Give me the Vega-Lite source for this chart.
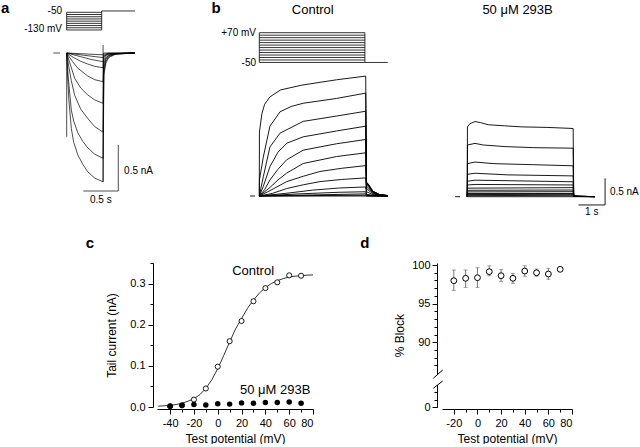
{
"$schema":"https://vega.github.io/schema/vega-lite/v6.json",
"padding":0,
"background":"white",
"config":{"view":{"stroke":null},"font":"Liberation Sans","text":{"font":"Liberation Sans","color":"black","fontSize":10},
"axis":{"grid":false,"domainColor":"black","tickColor":"black","labelColor":"black","titleColor":"black","labelFont":"Liberation Sans","titleFont":"Liberation Sans","labelFontSize":11,"titleFontSize":12,"titleFontWeight":"normal","domainWidth":1,"tickWidth":1}},
"datasets":{
"a_v":[
{"s":"L50","t":0,"v":-50},{"s":"L50","t":0.5,"v":-50},
{"s":"L60","t":0,"v":-60},{"s":"L60","t":0.5,"v":-60},
{"s":"L70","t":0,"v":-70},{"s":"L70","t":0.5,"v":-70},
{"s":"L80","t":0,"v":-80},{"s":"L80","t":0.5,"v":-80},
{"s":"L90","t":0,"v":-90},{"s":"L90","t":0.5,"v":-90},
{"s":"L100","t":0,"v":-100},{"s":"L100","t":0.5,"v":-100},
{"s":"L110","t":0,"v":-110},{"s":"L110","t":0.5,"v":-110},
{"s":"L120","t":0,"v":-120},{"s":"L120","t":0.5,"v":-120},
{"s":"L130","t":0,"v":-130},{"s":"L130","t":0.5,"v":-130},
{"s":"e0","t":0,"v":-50},{"s":"e0","t":0,"v":-130},
{"s":"e1","t":0.5,"v":-130},{"s":"e1","t":0.5,"v":-44},
{"s":"post","t":0.5,"v":-44},{"s":"post","t":0.976,"v":-44}
],
"a_i":[
{"s":"-130","t":0,"i":0},{"s":"-130","t":0.01,"i":-0.2},{"s":"-130","t":0.03,"i":-0.5},{"s":"-130","t":0.066,"i":-0.82},{"s":"-130","t":0.1,"i":-0.97},{"s":"-130","t":0.16,"i":-1.11},{"s":"-130","t":0.23,"i":-1.21},{"s":"-130","t":0.3,"i":-1.29},{"s":"-130","t":0.4,"i":-1.36},{"s":"-130","t":0.52,"i":-1.4},{"s":"-130","t":0.53,"i":-0.24},{"s":"-130","t":0.56,"i":-0.11},{"s":"-130","t":0.6,"i":-0.05},{"s":"-130","t":0.7,"i":-0.012},{"s":"-130","t":0.97,"i":0},
{"s":"-120","t":0,"i":0},{"s":"-120","t":0.02,"i":-0.25},{"s":"-120","t":0.066,"i":-0.62},{"s":"-120","t":0.1,"i":-0.74},{"s":"-120","t":0.16,"i":-0.87},{"s":"-120","t":0.23,"i":-0.96},{"s":"-120","t":0.3,"i":-1.03},{"s":"-120","t":0.4,"i":-1.1},{"s":"-120","t":0.52,"i":-1.145},{"s":"-120","t":0.53,"i":-0.2},{"s":"-120","t":0.56,"i":-0.09},{"s":"-120","t":0.6,"i":-0.04},{"s":"-120","t":0.7,"i":-0.01},{"s":"-120","t":0.97,"i":0},
{"s":"-110","t":0,"i":0},{"s":"-110","t":0.03,"i":-0.15},{"s":"-110","t":0.066,"i":-0.3},{"s":"-110","t":0.114,"i":-0.46},{"s":"-110","t":0.2,"i":-0.61},{"s":"-110","t":0.3,"i":-0.71},{"s":"-110","t":0.4,"i":-0.8},{"s":"-110","t":0.52,"i":-0.86},{"s":"-110","t":0.53,"i":-0.16},{"s":"-110","t":0.56,"i":-0.07},{"s":"-110","t":0.6,"i":-0.03},{"s":"-110","t":0.7,"i":-0.008},{"s":"-110","t":0.97,"i":0},
{"s":"-100","t":0,"i":0},{"s":"-100","t":0.05,"i":-0.12},{"s":"-100","t":0.114,"i":-0.275},{"s":"-100","t":0.2,"i":-0.38},{"s":"-100","t":0.3,"i":-0.455},{"s":"-100","t":0.4,"i":-0.51},{"s":"-100","t":0.52,"i":-0.547},{"s":"-100","t":0.53,"i":-0.12},{"s":"-100","t":0.56,"i":-0.055},{"s":"-100","t":0.6,"i":-0.025},{"s":"-100","t":0.7,"i":-0.006},{"s":"-100","t":0.97,"i":0},
{"s":"-90","t":0,"i":0},{"s":"-90","t":0.08,"i":-0.09},{"s":"-90","t":0.16,"i":-0.166},{"s":"-90","t":0.3,"i":-0.25},{"s":"-90","t":0.4,"i":-0.29},{"s":"-90","t":0.52,"i":-0.312},{"s":"-90","t":0.53,"i":-0.08},{"s":"-90","t":0.56,"i":-0.035},{"s":"-90","t":0.6,"i":-0.016},{"s":"-90","t":0.97,"i":0},
{"s":"-80","t":0,"i":0},{"s":"-80","t":0.1,"i":-0.05},{"s":"-80","t":0.2,"i":-0.09},{"s":"-80","t":0.3,"i":-0.12},{"s":"-80","t":0.4,"i":-0.145},{"s":"-80","t":0.52,"i":-0.16},{"s":"-80","t":0.53,"i":-0.05},{"s":"-80","t":0.56,"i":-0.022},{"s":"-80","t":0.6,"i":-0.01},{"s":"-80","t":0.97,"i":0},
{"s":"-70","t":0,"i":0},{"s":"-70","t":0.2,"i":-0.04},{"s":"-70","t":0.35,"i":-0.07},{"s":"-70","t":0.52,"i":-0.095},{"s":"-70","t":0.53,"i":-0.03},{"s":"-70","t":0.6,"i":-0.006},{"s":"-70","t":0.97,"i":0},
{"s":"-60","t":0,"i":0},{"s":"-60","t":0.25,"i":-0.025},{"s":"-60","t":0.52,"i":-0.05},{"s":"-60","t":0.53,"i":-0.015},{"s":"-60","t":0.6,"i":-0.003},{"s":"-60","t":0.97,"i":0},
{"s":"-50","t":0,"i":0},{"s":"-50","t":0.52,"i":-0.02},{"s":"-50","t":0.53,"i":0},{"s":"-50","t":0.97,"i":0},
{"s":"art0","t":0,"i":0},{"s":"art0","t":0,"i":-0.91},
{"s":"art1","t":0.52,"i":0.087},{"s":"art1","t":0.52,"i":-1.4},
{"s":"zero","t":-0.19,"i":0},{"s":"zero","t":-0.096,"i":0},
{"s":"sbv","t":0.737,"i":-1.0},{"s":"sbv","t":0.737,"i":-1.5},
{"s":"sbh","t":0.237,"i":-1.5},{"s":"sbh","t":0.737,"i":-1.5}
],
"bc_v":[
{"s":"L-50","t":0,"v":-50},{"s":"L-50","t":3.97,"v":-50},
{"s":"L-40","t":0,"v":-40},{"s":"L-40","t":3.97,"v":-40},
{"s":"L-30","t":0,"v":-30},{"s":"L-30","t":3.97,"v":-30},
{"s":"L-20","t":0,"v":-20},{"s":"L-20","t":3.97,"v":-20},
{"s":"L-10","t":0,"v":-10},{"s":"L-10","t":3.97,"v":-10},
{"s":"L0","t":0,"v":0},{"s":"L0","t":3.97,"v":0},
{"s":"L10","t":0,"v":10},{"s":"L10","t":3.97,"v":10},
{"s":"L20","t":0,"v":20},{"s":"L20","t":3.97,"v":20},
{"s":"L30","t":0,"v":30},{"s":"L30","t":3.97,"v":30},
{"s":"L40","t":0,"v":40},{"s":"L40","t":3.97,"v":40},
{"s":"L50","t":0,"v":50},{"s":"L50","t":3.97,"v":50},
{"s":"L60","t":0,"v":60},{"s":"L60","t":3.97,"v":60},
{"s":"L70","t":0,"v":70},{"s":"L70","t":3.97,"v":70},
{"s":"e0","t":0,"v":-50},{"s":"e0","t":0,"v":70},
{"s":"e1","t":3.97,"v":-50},{"s":"e1","t":3.97,"v":70},
{"s":"post","t":3.97,"v":-50},{"s":"post","t":4.83,"v":-50}
],
"bc_i":[
{"s":"+70","t":0,"i":0},{"s":"+70","t":0.005,"i":1.2},{"s":"+70","t":0.1,"i":1.55},{"s":"+70","t":0.2,"i":1.72},{"s":"+70","t":0.4,"i":1.86},{"s":"+70","t":0.8,"i":1.99},{"s":"+70","t":1.6,"i":2.08},{"s":"+70","t":2.9,"i":2.18},{"s":"+70","t":4.0,"i":2.25},{"s":"+70","t":4.03,"i":0.26},{"s":"+70","t":4.12,"i":0.21},{"s":"+70","t":4.27,"i":0.09},{"s":"+70","t":4.5,"i":0.03},{"s":"+70","t":4.83,"i":0.008},
{"s":"+60","t":0,"i":0},{"s":"+60","t":0.005,"i":0.3},{"s":"+60","t":0.15,"i":0.73},{"s":"+60","t":0.4,"i":1.31},{"s":"+60","t":0.78,"i":1.58},{"s":"+60","t":1.2,"i":1.68},{"s":"+60","t":1.65,"i":1.74},{"s":"+60","t":2.9,"i":1.83},{"s":"+60","t":4.0,"i":1.93},{"s":"+60","t":4.03,"i":0.26},{"s":"+60","t":4.12,"i":0.2},{"s":"+60","t":4.27,"i":0.09},{"s":"+60","t":4.5,"i":0.03},{"s":"+60","t":4.83,"i":0.008},
{"s":"+50","t":0,"i":0},{"s":"+50","t":0.15,"i":0.36},{"s":"+50","t":0.4,"i":0.92},{"s":"+50","t":0.78,"i":1.18},{"s":"+50","t":1.65,"i":1.4},{"s":"+50","t":2.9,"i":1.5},{"s":"+50","t":4.0,"i":1.59},{"s":"+50","t":4.03,"i":0.25},{"s":"+50","t":4.12,"i":0.19},{"s":"+50","t":4.27,"i":0.085},{"s":"+50","t":4.5,"i":0.028},{"s":"+50","t":4.83,"i":0.007},
{"s":"+40","t":0,"i":0},{"s":"+40","t":0.15,"i":0.18},{"s":"+40","t":0.4,"i":0.55},{"s":"+40","t":0.7,"i":0.82},{"s":"+40","t":1.03,"i":0.99},{"s":"+40","t":1.65,"i":1.11},{"s":"+40","t":2.9,"i":1.22},{"s":"+40","t":4.0,"i":1.31},{"s":"+40","t":4.03,"i":0.24},{"s":"+40","t":4.12,"i":0.18},{"s":"+40","t":4.27,"i":0.08},{"s":"+40","t":4.5,"i":0.026},{"s":"+40","t":4.83,"i":0.006},
{"s":"+30","t":0,"i":0},{"s":"+30","t":0.2,"i":0.12},{"s":"+30","t":0.4,"i":0.3},{"s":"+30","t":0.7,"i":0.5},{"s":"+30","t":1.03,"i":0.68},{"s":"+30","t":1.65,"i":0.86},{"s":"+30","t":2.9,"i":0.98},{"s":"+30","t":4.0,"i":1.06},{"s":"+30","t":4.03,"i":0.21},{"s":"+30","t":4.12,"i":0.16},{"s":"+30","t":4.27,"i":0.07},{"s":"+30","t":4.5,"i":0.023},{"s":"+30","t":4.83,"i":0.005},
{"s":"+20","t":0,"i":0},{"s":"+20","t":0.4,"i":0.16},{"s":"+20","t":0.7,"i":0.3},{"s":"+20","t":1.03,"i":0.43},{"s":"+20","t":1.65,"i":0.61},{"s":"+20","t":2.9,"i":0.74},{"s":"+20","t":4.0,"i":0.81},{"s":"+20","t":4.03,"i":0.17},{"s":"+20","t":4.12,"i":0.13},{"s":"+20","t":4.27,"i":0.055},{"s":"+20","t":4.5,"i":0.018},{"s":"+20","t":4.83,"i":0.004},
{"s":"+10","t":0,"i":0},{"s":"+10","t":0.4,"i":0.1},{"s":"+10","t":1.03,"i":0.27},{"s":"+10","t":1.65,"i":0.37},{"s":"+10","t":2.28,"i":0.46},{"s":"+10","t":3.1,"i":0.52},{"s":"+10","t":4.0,"i":0.57},{"s":"+10","t":4.03,"i":0.13},{"s":"+10","t":4.12,"i":0.1},{"s":"+10","t":4.27,"i":0.04},{"s":"+10","t":4.5,"i":0.014},{"s":"+10","t":4.83,"i":0.003},
{"s":"0","t":0,"i":0},{"s":"0","t":0.5,"i":0.05},{"s":"0","t":1.03,"i":0.14},{"s":"0","t":1.65,"i":0.21},{"s":"0","t":2.28,"i":0.27},{"s":"0","t":3.1,"i":0.31},{"s":"0","t":4.0,"i":0.34},{"s":"0","t":4.03,"i":0.08},{"s":"0","t":4.12,"i":0.06},{"s":"0","t":4.27,"i":0.025},{"s":"0","t":4.5,"i":0.008},{"s":"0","t":4.83,"i":0.002},
{"s":"-10","t":0,"i":0},{"s":"-10","t":1.0,"i":0.05},{"s":"-10","t":2.0,"i":0.11},{"s":"-10","t":3.0,"i":0.15},{"s":"-10","t":4.0,"i":0.17},{"s":"-10","t":4.03,"i":0.035},{"s":"-10","t":4.27,"i":0.01},{"s":"-10","t":4.83,"i":0},
{"s":"-20","t":0,"i":0},{"s":"-20","t":1.5,"i":0.04},{"s":"-20","t":3.0,"i":0.07},{"s":"-20","t":4.0,"i":0.08},{"s":"-20","t":4.03,"i":0.015},{"s":"-20","t":4.3,"i":0.004},{"s":"-20","t":4.83,"i":0},
{"s":"-30","t":0,"i":0},{"s":"-30","t":2.0,"i":0.02},{"s":"-30","t":4.0,"i":0.04},{"s":"-30","t":4.03,"i":0.005},{"s":"-30","t":4.83,"i":0},
{"s":"-40","t":0,"i":0},{"s":"-40","t":4.0,"i":0.015},{"s":"-40","t":4.03,"i":0},{"s":"-40","t":4.83,"i":0},
{"s":"-50","t":0,"i":0},{"s":"-50","t":4.83,"i":0},
{"s":"zero","t":-0.35,"i":0},{"s":"zero","t":-0.16,"i":0}
],
"bb_i":[
{"s":"+70","t":0,"i":0},{"s":"+70","t":0.005,"i":1.31},{"s":"+70","t":0.1,"i":1.37},{"s":"+70","t":0.29,"i":1.41},{"s":"+70","t":0.5,"i":1.39},{"s":"+70","t":0.79,"i":1.35},{"s":"+70","t":1.4,"i":1.33},{"s":"+70","t":2.05,"i":1.31},{"s":"+70","t":3.0,"i":1.3},{"s":"+70","t":3.98,"i":1.28},{"s":"+70","t":4.0,"i":0.02},{"s":"+70","t":4.2,"i":0.01},{"s":"+70","t":4.8,"i":0},
{"s":"+60","t":0,"i":0},{"s":"+60","t":0.005,"i":0.97},{"s":"+60","t":0.29,"i":1.0},{"s":"+60","t":0.6,"i":0.97},{"s":"+60","t":1.42,"i":0.94},{"s":"+60","t":2.5,"i":0.92},{"s":"+60","t":3.98,"i":0.91},{"s":"+60","t":4.0,"i":0.015},{"s":"+60","t":4.8,"i":0},
{"s":"+50","t":0,"i":0},{"s":"+50","t":0.005,"i":0.62},{"s":"+50","t":0.29,"i":0.65},{"s":"+50","t":1.0,"i":0.62},{"s":"+50","t":2.5,"i":0.6},{"s":"+50","t":3.98,"i":0.58},{"s":"+50","t":4.0,"i":0.01},{"s":"+50","t":4.8,"i":0},
{"s":"+40","t":0,"i":0},{"s":"+40","t":0.005,"i":0.42},{"s":"+40","t":0.29,"i":0.44},{"s":"+40","t":1.5,"i":0.41},{"s":"+40","t":3.98,"i":0.39},{"s":"+40","t":4.0,"i":0.01},{"s":"+40","t":4.8,"i":0},
{"s":"+30","t":0,"i":0},{"s":"+30","t":0.005,"i":0.29},{"s":"+30","t":0.29,"i":0.31},{"s":"+30","t":3.98,"i":0.28},{"s":"+30","t":4.0,"i":0.005},{"s":"+30","t":4.8,"i":0},
{"s":"+20","t":0,"i":0},{"s":"+20","t":0.005,"i":0.22},{"s":"+20","t":0.29,"i":0.23},{"s":"+20","t":3.98,"i":0.22},{"s":"+20","t":4.0,"i":0.005},{"s":"+20","t":4.8,"i":0},
{"s":"+10","t":0,"i":0},{"s":"+10","t":0.005,"i":0.16},{"s":"+10","t":3.98,"i":0.17},{"s":"+10","t":4.0,"i":0},
{"s":"0","t":0,"i":0},{"s":"0","t":0.005,"i":0.12},{"s":"0","t":3.98,"i":0.125},{"s":"0","t":4.0,"i":0},
{"s":"-10","t":0,"i":0},{"s":"-10","t":0.005,"i":0.09},{"s":"-10","t":3.98,"i":0.094},{"s":"-10","t":4.0,"i":0},
{"s":"-20","t":0,"i":0},{"s":"-20","t":0.005,"i":0.06},{"s":"-20","t":3.98,"i":0.06},{"s":"-20","t":4.0,"i":0},
{"s":"-30","t":0,"i":0},{"s":"-30","t":0.005,"i":0.04},{"s":"-30","t":3.98,"i":0.045},{"s":"-30","t":4.0,"i":0},
{"s":"-40","t":0,"i":0},{"s":"-40","t":0.005,"i":0.02},{"s":"-40","t":3.98,"i":0.026},{"s":"-40","t":4.0,"i":0},
{"s":"-50","t":0,"i":0},{"s":"-50","t":4.8,"i":0},
{"s":"zero","t":-0.46,"i":0},{"s":"zero","t":-0.27,"i":0},
{"s":"sbv","t":5.18,"i":0.345},{"s":"sbv","t":5.18,"i":-0.155},
{"s":"sbh","t":4.18,"i":-0.155},{"s":"sbh","t":5.18,"i":-0.155}
],
"c_fit":[
{"v":-50,"i":0.002},{"v":-45,"i":0.003},{"v":-40,"i":0.004},{"v":-35,"i":0.006},{"v":-30,"i":0.009},{"v":-25,"i":0.014},{"v":-20,"i":0.02},{"v":-15,"i":0.03},{"v":-10,"i":0.045},{"v":-5,"i":0.066},{"v":0,"i":0.093},{"v":5,"i":0.125},{"v":10,"i":0.158},{"v":15,"i":0.19},{"v":20,"i":0.215},{"v":25,"i":0.24},{"v":30,"i":0.26},{"v":35,"i":0.277},{"v":40,"i":0.29},{"v":45,"i":0.3},{"v":50,"i":0.307},{"v":55,"i":0.312},{"v":60,"i":0.316},{"v":65,"i":0.318},{"v":70,"i":0.319},{"v":75,"i":0.3205},{"v":80,"i":0.321}
],
"c_pts":[
{"v":-40,"ctrl":0.002,"b293":0.002},{"v":-30,"ctrl":0.004,"b293":0.004},{"v":-20,"ctrl":0.018,"b293":0.006},{"v":-10,"ctrl":0.045,"b293":0.005},{"v":0,"ctrl":0.098,"b293":0.008},{"v":10,"ctrl":0.16,"b293":0.007},{"v":20,"ctrl":0.209,"b293":0.01},{"v":30,"ctrl":0.257,"b293":0.009},{"v":40,"ctrl":0.289,"b293":0.011},{"v":50,"ctrl":0.303,"b293":0.011},{"v":60,"ctrl":0.32,"b293":0.012},{"v":70,"ctrl":0.319,"b293":0.009}
],
"d_pts":[
{"v":-20,"m":97.97,"lo":96.7,"hi":99.35},{"v":-10,"m":98.28,"lo":97.1,"hi":99.35},{"v":0,"m":98.36,"lo":97.1,"hi":99.65},{"v":10,"m":99.14,"lo":98.6,"hi":99.9},{"v":20,"m":98.62,"lo":97.85,"hi":99.4},{"v":30,"m":98.28,"lo":97.63,"hi":98.92},{"v":40,"m":99.22,"lo":98.54,"hi":99.9},{"v":50,"m":99.0,"lo":98.54,"hi":99.48},{"v":60,"m":98.84,"lo":98.15,"hi":99.57},{"v":70,"m":99.44,"lo":99.22,"hi":99.65}
]
},
"bounds":"flush",
"spacing":33,
"vconcat":[
{"width":640,"height":230,"resolve":{"scale":{"x":"independent","y":"independent"}},"layer":[
 {"resolve":{"scale":{"y":"independent"}},"layer":[
  {"data":{"name":"a_v"},"layer":[
   {"mark":{"type":"line","color":"black","strokeWidth":0.8},"encoding":{"x":{"field":"t","type":"quantitative","scale":{"domain":[-0.9529,8.19],"nice":false,"zero":false},"axis":null},"y":{"field":"v","type":"quantitative","scale":{"domain":[-1035.07,5.656],"nice":false,"zero":false},"axis":null},"detail":{"field":"s","type":"nominal"}}},
   {"data":{"values":[{}]},"mark":{"type":"text","align":"right","baseline":"middle","fontSize":10},"encoding":{"x":{"datum":-0.067,"type":"quantitative","scale":{"domain":[-0.9529,8.19],"nice":false,"zero":false},"axis":null},"y":{"datum":-44,"type":"quantitative","scale":{"domain":[-1035.07,5.656],"nice":false,"zero":false},"axis":null},"text":{"value":"-50"}}},
   {"data":{"values":[{}]},"mark":{"type":"text","align":"right","baseline":"middle","fontSize":10},"encoding":{"x":{"datum":-0.067,"type":"quantitative","scale":{"domain":[-0.9529,8.19],"nice":false,"zero":false},"axis":null},"y":{"datum":-127,"type":"quantitative","scale":{"domain":[-1035.07,5.656],"nice":false,"zero":false},"axis":null},"text":{"value":"-130 mV"}}}
  ]},
  {"data":{"name":"a_i"},"layer":[
   {"mark":{"type":"line","color":"black","strokeWidth":0.7},"encoding":{"x":{"field":"t","type":"quantitative","scale":{"domain":[-0.9529,8.19],"nice":false,"zero":false},"axis":null},"y":{"field":"i","type":"quantitative","scale":{"domain":[-1.9239,0.5761],"nice":false,"zero":false},"axis":null},"detail":{"field":"s","type":"nominal"}}},
   {"data":{"values":[{}]},"mark":{"type":"text","align":"center","baseline":"middle","fontSize":15,"fontWeight":"bold"},"encoding":{"x":{"datum":-0.88,"type":"quantitative","scale":{"domain":[-0.9529,8.19],"nice":false,"zero":false},"axis":null},"y":{"datum":0.49,"type":"quantitative","scale":{"domain":[-1.9239,0.5761],"nice":false,"zero":false},"axis":null},"text":{"value":"a"}}},
   {"data":{"values":[{}]},"mark":{"type":"text","align":"left","baseline":"middle","fontSize":10},"encoding":{"x":{"datum":0.82,"type":"quantitative","scale":{"domain":[-0.9529,8.19],"nice":false,"zero":false},"axis":null},"y":{"datum":-1.28,"type":"quantitative","scale":{"domain":[-1.9239,0.5761],"nice":false,"zero":false},"axis":null},"text":{"value":"0.5 nA"}}},
   {"data":{"values":[{}]},"mark":{"type":"text","align":"center","baseline":"middle","fontSize":10},"encoding":{"x":{"datum":0.487,"type":"quantitative","scale":{"domain":[-0.9529,8.19],"nice":false,"zero":false},"axis":null},"y":{"datum":-1.6,"type":"quantitative","scale":{"domain":[-1.9239,0.5761],"nice":false,"zero":false},"axis":null},"text":{"value":"0.5 s"}}}
  ]}
 ]},
 {"resolve":{"scale":{"y":"independent"}},"layer":[
  {"data":{"name":"bc_v"},"layer":[
   {"mark":{"type":"line","color":"black","strokeWidth":0.8},"encoding":{"x":{"field":"t","type":"quantitative","scale":{"domain":[-9.7481,14.312],"nice":false,"zero":false},"axis":null},"y":{"field":"v","type":"quantitative","scale":{"domain":[-725.56,201.85],"nice":false,"zero":false},"axis":null},"detail":{"field":"s","type":"nominal"}}},
   {"data":{"values":[{}]},"mark":{"type":"text","align":"right","baseline":"middle","fontSize":10},"encoding":{"x":{"datum":-0.124,"type":"quantitative","scale":{"domain":[-9.7481,14.312],"nice":false,"zero":false},"axis":null},"y":{"datum":68,"type":"quantitative","scale":{"domain":[-725.56,201.85],"nice":false,"zero":false},"axis":null},"text":{"value":"+70 mV"}}},
   {"data":{"values":[{}]},"mark":{"type":"text","align":"right","baseline":"middle","fontSize":10},"encoding":{"x":{"datum":-0.124,"type":"quantitative","scale":{"domain":[-9.7481,14.312],"nice":false,"zero":false},"axis":null},"y":{"datum":-52,"type":"quantitative","scale":{"domain":[-725.56,201.85],"nice":false,"zero":false},"axis":null},"text":{"value":"-50"}}}
  ]},
  {"data":{"name":"bc_i"},"layer":[
   {"mark":{"type":"line","color":"black","strokeWidth":0.9},"encoding":{"x":{"field":"t","type":"quantitative","scale":{"domain":[-9.7481,14.312],"nice":false,"zero":false},"axis":null},"y":{"field":"i","type":"quantitative","scale":{"domain":[-0.6379,3.6773],"nice":false,"zero":false},"axis":null},"detail":{"field":"s","type":"nominal"}}},
   {"data":{"values":[{}]},"mark":{"type":"text","align":"center","baseline":"middle","fontSize":15,"fontWeight":"bold"},"encoding":{"x":{"datum":-1.628,"type":"quantitative","scale":{"domain":[-9.7481,14.312],"nice":false,"zero":false},"axis":null},"y":{"datum":3.52,"type":"quantitative","scale":{"domain":[-0.6379,3.6773],"nice":false,"zero":false},"axis":null},"text":{"value":"b"}}},
   {"data":{"values":[{}]},"mark":{"type":"text","align":"center","baseline":"middle","fontSize":13},"encoding":{"x":{"datum":2.01,"type":"quantitative","scale":{"domain":[-9.7481,14.312],"nice":false,"zero":false},"axis":null},"y":{"datum":3.49,"type":"quantitative","scale":{"domain":[-0.6379,3.6773],"nice":false,"zero":false},"axis":null},"text":{"value":"Control"}}}
  ]}
 ]},
 {"data":{"name":"bb_i"},"layer":[
   {"mark":{"type":"line","color":"black","strokeWidth":0.9},"encoding":{"x":{"field":"t","type":"quantitative","scale":{"domain":[-17.568,6.4925],"nice":false,"zero":false},"axis":null},"y":{"field":"i","type":"quantitative","scale":{"domain":[-0.6248,3.6904],"nice":false,"zero":false},"axis":null},"detail":{"field":"s","type":"nominal"}}},
   {"data":{"values":[{}]},"mark":{"type":"text","align":"center","baseline":"middle","fontSize":13},"encoding":{"x":{"datum":1.89,"type":"quantitative","scale":{"domain":[-17.568,6.4925],"nice":false,"zero":false},"axis":null},"y":{"datum":3.5,"type":"quantitative","scale":{"domain":[-0.6248,3.6904],"nice":false,"zero":false},"axis":null},"text":{"value":"50 μM 293B"}}},
   {"data":{"values":[{}]},"mark":{"type":"text","align":"left","baseline":"middle","fontSize":10},"encoding":{"x":{"datum":5.36,"type":"quantitative","scale":{"domain":[-17.568,6.4925],"nice":false,"zero":false},"axis":null},"y":{"datum":0.094,"type":"quantitative","scale":{"domain":[-0.6248,3.6904],"nice":false,"zero":false},"axis":null},"text":{"value":"0.5 nA"}}},
   {"data":{"values":[{}]},"mark":{"type":"text","align":"center","baseline":"middle","fontSize":10},"encoding":{"x":{"datum":4.68,"type":"quantitative","scale":{"domain":[-17.568,6.4925],"nice":false,"zero":false},"axis":null},"y":{"datum":-0.28,"type":"quantitative","scale":{"domain":[-0.6248,3.6904],"nice":false,"zero":false},"axis":null},"text":{"value":"1 s"}}}
 ]}
]},
{"bounds":"flush","spacing":129,"hconcat":[
 {"width":28,"height":1,"data":{"values":[]},"mark":"point"},
 {"width":156,"height":144,"resolve":{"axis":{"x":"independent","y":"independent"}},"layer":[
  {"data":{"name":"c_fit"},"mark":{"type":"line","color":"black","strokeWidth":0.8},"encoding":{
    "x":{"field":"v","type":"quantitative","scale":{"domain":[-51,80],"nice":false,"zero":false},"axis":{"orient":"bottom","values":[-40,-20,0,20,40,60,80],"labelExpr":"'' + datum.value","tickSize":5,"offset":2,"labelPadding":3,"title":"Test potential (mV)","titlePadding":5}},
    "y":{"field":"i","type":"quantitative","scale":{"domain":[0,0.35],"nice":false,"zero":false},"axis":{"orient":"left","values":[0,0.1,0.2,0.3],"format":".1f","tickSize":5,"offset":4,"labelPadding":3,"title":"Tail current (nA)","titlePadding":11}}}},
  {"data":{"name":"c_pts"},"mark":{"type":"point","shape":"circle","filled":true,"fill":"white","stroke":"black","strokeWidth":0.9,"size":26,"opacity":1},"encoding":{
    "x":{"field":"v","type":"quantitative","scale":{"domain":[-51,80],"nice":false,"zero":false},"axis":{"orient":"bottom","values":[-30,-10,10,30,50,70],"tickSize":3,"offset":2,"labels":false,"domain":false,"title":null}},
    "y":{"field":"ctrl","type":"quantitative","scale":{"domain":[0,0.35],"nice":false,"zero":false},"axis":{"orient":"left","values":[0.05,0.15,0.25,0.35],"tickSize":3,"offset":4,"labels":false,"domain":false,"title":null}}}},
  {"data":{"name":"c_pts"},"mark":{"type":"point","shape":"circle","filled":true,"color":"black","size":30,"opacity":1},"encoding":{"x":{"field":"v","type":"quantitative","scale":{"domain":[-51,80],"nice":false,"zero":false},"axis":null},"y":{"field":"b293","type":"quantitative","scale":{"domain":[0,0.35],"nice":false,"zero":false},"axis":null}}},
  {"data":{"values":[{}]},"mark":{"type":"text","align":"center","baseline":"middle","fontSize":13},"encoding":{"x":{"datum":29.7,"type":"quantitative","scale":{"domain":[-51,80],"nice":false,"zero":false},"axis":null},"y":{"datum":0.33,"type":"quantitative","scale":{"domain":[0,0.35],"nice":false,"zero":false},"axis":null},"text":{"value":"Control"}}},
  {"data":{"values":[{}]},"mark":{"type":"text","align":"center","baseline":"middle","fontSize":13},"encoding":{"x":{"datum":48.2,"type":"quantitative","scale":{"domain":[-51,80],"nice":false,"zero":false},"axis":null},"y":{"datum":0.0415,"type":"quantitative","scale":{"domain":[0,0.35],"nice":false,"zero":false},"axis":null},"text":{"value":"50 μM 293B"}}},
  {"data":{"values":[{}]},"mark":{"type":"text","align":"center","baseline":"middle","fontSize":15,"fontWeight":"bold"},"encoding":{"x":{"datum":-107.3,"type":"quantitative","scale":{"domain":[-51,80],"nice":false,"zero":false},"axis":null},"y":{"datum":0.398,"type":"quantitative","scale":{"domain":[0,0.35],"nice":false,"zero":false},"axis":null},"text":{"value":"c"}}}
 ]},
 {"width":130,"height":145,"resolve":{"axis":{"x":"independent","y":"independent"}},"layer":[
  {"data":{"name":"d_pts"},"mark":{"type":"rule","color":"#777777","strokeWidth":1},"encoding":{
    "x":{"field":"v","type":"quantitative","scale":{"domain":[-30,80],"nice":false,"zero":false},"axis":{"orient":"bottom","values":[-20,0,20,40,60,80],"labelExpr":"'' + datum.value","tickSize":5,"offset":1,"labelPadding":3,"title":"Test potential (mV)","titlePadding":5}},
    "y":{"field":"lo","type":"quantitative","scale":{"domain":[0,2.5,86,100.26],"range":[144.3,125,110.2,0],"nice":false,"zero":false},"axis":{"orient":"left","values":[0,90,95,100],"tickSize":5,"offset":5,"labelPadding":2,"title":"% Block","titlePadding":5}},
    "y2":{"field":"hi"}}},
  {"data":{"name":"d_pts"},"mark":{"type":"tick","orient":"horizontal","size":4,"thickness":1,"color":"#777777"},"encoding":{
    "x":{"field":"v","type":"quantitative","scale":{"domain":[-30,80],"nice":false,"zero":false},"axis":{"orient":"bottom","values":[-10,10,30,50,70],"tickSize":3,"offset":1,"labels":false,"domain":false,"title":null}},
    "y":{"field":"lo","type":"quantitative","scale":{"domain":[0,2.5,86,100.26],"range":[144.3,125,110.2,0],"nice":false,"zero":false},"axis":{"orient":"left","values":[1,2,87,88,89,91,92,93,94,96,97,98,99],"tickSize":3,"offset":5,"labels":false,"domain":false,"title":null}}}},
  {"data":{"name":"d_pts"},"mark":{"type":"tick","orient":"horizontal","size":4,"thickness":1,"color":"#777777"},"encoding":{"x":{"field":"v","type":"quantitative","scale":{"domain":[-30,80],"nice":false,"zero":false},"axis":null},"y":{"field":"hi","type":"quantitative","scale":{"domain":[0,2.5,86,100.26],"range":[144.3,125,110.2,0],"nice":false,"zero":false},"axis":null}}},
  {"data":{"name":"d_pts"},"mark":{"type":"point","shape":"circle","filled":true,"fill":"white","stroke":"black","strokeWidth":1,"size":34,"opacity":1},"encoding":{"x":{"field":"v","type":"quantitative","scale":{"domain":[-30,80],"nice":false,"zero":false},"axis":null},"y":{"field":"m","type":"quantitative","scale":{"domain":[0,2.5,86,100.26],"range":[144.3,125,110.2,0],"nice":false,"zero":false},"axis":null}}},
  {"data":{"values":[{}]},"mark":{"type":"rect","color":"white"},"encoding":{"x":{"datum":-35.5,"type":"quantitative","scale":{"domain":[-30,80],"nice":false,"zero":false},"axis":null},"x2":{"datum":-32.96},"y":{"datum":75.8,"type":"quantitative","scale":{"domain":[0,2.5,86,100.26],"range":[144.3,125,110.2,0],"nice":false,"zero":false},"axis":null},"y2":{"datum":19.4}}},
  {"data":{"values":[{}]},"mark":{"type":"rule","color":"black","strokeWidth":1},"encoding":{"x":{"datum":-37.36,"type":"quantitative","scale":{"domain":[-30,80],"nice":false,"zero":false},"axis":null},"x2":{"datum":-29.41},"y":{"datum":57.23,"type":"quantitative","scale":{"domain":[0,2.5,86,100.26],"range":[144.3,125,110.2,0],"nice":false,"zero":false},"axis":null},"y2":{"datum":86.41}}},
  {"data":{"values":[{}]},"mark":{"type":"rule","color":"black","strokeWidth":1},"encoding":{"x":{"datum":-37.36,"type":"quantitative","scale":{"domain":[-30,80],"nice":false,"zero":false},"axis":null},"x2":{"datum":-29.41},"y":{"datum":2.46,"type":"quantitative","scale":{"domain":[0,2.5,86,100.26],"range":[144.3,125,110.2,0],"nice":false,"zero":false},"axis":null},"y2":{"datum":42.0}}},
  {"data":{"values":[{}]},"mark":{"type":"text","align":"center","baseline":"middle","fontSize":15,"fontWeight":"bold"},"encoding":{"x":{"datum":-95.2,"type":"quantitative","scale":{"domain":[-30,80],"nice":false,"zero":false},"axis":null},"y":{"datum":102.81,"type":"quantitative","scale":{"domain":[0,2.5,86,100.26],"range":[144.3,125,110.2,0],"nice":false,"zero":false},"axis":null},"text":{"value":"d"}}}
 ]}
]}
]
}
